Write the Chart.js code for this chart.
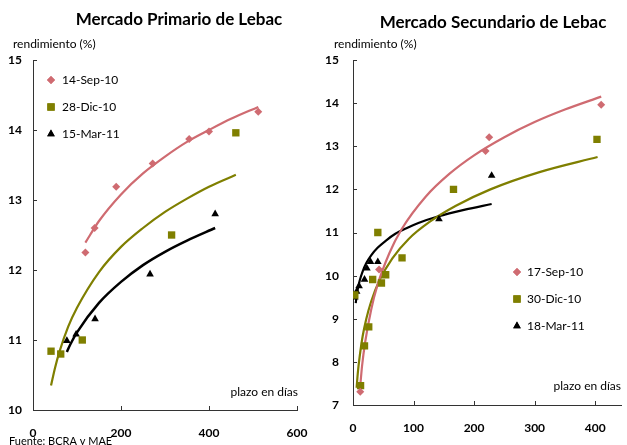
<!DOCTYPE html>
<html>
<head>
<meta charset="utf-8">
<script src="https://cdn.jsdelivr.net/npm/chart.js@4.4.1/dist/chart.umd.min.js"></script>
<style>
  html, body { margin: 0; padding: 0; background: #fff; overflow: hidden; }
  #wrap { position: relative; width: 627px; height: 445px; }
  canvas { position: absolute; top: 0; }
  #primario { left: 0; }
  #secundario { left: 313px; }
</style>
</head>
<body>
<div id="wrap">
  <canvas id="primario" width="313" height="445"></canvas>
  <canvas id="secundario" width="314" height="445"></canvas>
</div>
<script>
// ---------- Mercado primario: plazo (días) / rendimiento (%) ----------
const primLabels = ['14-Sep-10', '28-Dic-10', '15-Mar-11'];
const primSepDays = [119, 140, 189, 272, 355, 400, 512];
const primSepRate = [12.25, 12.60, 13.19, 13.52, 13.87, 13.98, 14.26];
const primDicDays = [41, 63, 112, 315, 461];
const primDicRate = [10.84, 10.80, 11.00, 12.50, 13.96];
const primMarDays = [77, 98, 141, 266, 414];
const primMarRate = [10.99, 11.08, 11.30, 11.94, 12.80];

// logarithmic trend curves
const primSepTrendDays = [119, 150, 200, 250, 300, 350, 400, 450, 512];
const primSepTrendRate = [12.39, 12.70, 13.08, 13.38, 13.62, 13.83, 14.00, 14.16, 14.33];
const primDicTrendDays = [41, 50, 60, 80, 100, 150, 200, 250, 300, 350, 400, 461];
const primDicTrendRate = [10.35, 10.60, 10.83, 11.19, 11.46, 11.97, 12.33, 12.60, 12.83, 13.02, 13.19, 13.36];
const primMarTrendDays = [77, 85, 100, 150, 200, 250, 300, 350, 414];
const primMarTrendRate = [10.83, 10.94, 11.11, 11.53, 11.83, 12.07, 12.26, 12.42, 12.60];

const primXTicks = [0, 200, 400, 600];
const primYTicks = [10, 11, 12, 13, 14, 15];

// ---------- Mercado secundario: plazo (días) / rendimiento (%) ----------
const secLabels = ['17-Sep-10', '30-Dic-10', '18-Mar-11'];
const secSepDays = [12, 43, 219, 225, 410];
const secSepRate = [7.31, 10.14, 12.89, 13.21, 13.96];
const secDicDays = [3, 12.5, 19, 26, 32.5, 41, 47, 54, 81, 166, 403];
const secDicRate = [9.55, 7.45, 8.37, 8.81, 9.91, 11.00, 9.83, 10.02, 10.41, 12.00, 13.16];
const secMarDays = [3, 6, 10, 19, 23, 29, 41, 142, 229];
const secMarRate = [9.50, 9.63, 9.76, 9.91, 10.17, 10.32, 10.32, 11.31, 12.32];

const secSepTrendDays = [12, 15, 20, 30, 40, 60, 80, 120, 160, 200, 250, 300, 350, 410];
const secSepTrendRate = [7.45, 7.91, 8.45, 9.21, 9.76, 10.52, 11.07, 11.83, 12.37, 12.79, 13.21, 13.56, 13.85, 14.15];
const secDicTrendDays = [6, 8, 11, 16, 22, 30, 43, 65, 92, 127, 170, 227, 308, 404];
const secDicTrendRate = [7.40, 7.75, 8.12, 8.60, 9.00, 9.40, 9.87, 10.40, 10.85, 11.25, 11.62, 12.00, 12.40, 12.75];
const secMarTrendDays = [4.5, 7, 11, 16, 22, 30, 41, 55, 70, 90, 108, 140, 185, 229];
const secMarTrendRate = [9.36, 9.62, 9.88, 10.10, 10.29, 10.47, 10.65, 10.82, 10.97, 11.11, 11.22, 11.37, 11.53, 11.66];

const secXTicks = [0, 100, 200, 300, 400];
const secYTicks = [7, 8, 9, 10, 11, 12, 13, 14, 15];

// ---------- styling ----------
const FONT = 'Lato, "Open Sans", "DejaVu Sans", sans-serif';
const PINK = '#cf6b71';
const OLIVE = '#7f7f00';
const BLACK = '#000000';
const AXIS = '#333333';

const markerStyles = [
  { pointStyle: 'rectRot', radius: 4, color: PINK },
  { pointStyle: 'rect', radius: 5.2, color: OLIVE },
  { pointStyle: 'triangle', radius: 4.4, color: BLACK }
];

function pairs(xs, ys) { return xs.map((x, i) => ({ x: x, y: ys[i] })); }

function markerSet(label, xs, ys, st) {
  return {
    label: label, data: pairs(xs, ys), showLine: false,
    pointStyle: st.pointStyle, pointRadius: st.radius,
    pointBackgroundColor: st.color, pointBorderColor: st.color, pointBorderWidth: 0,
    order: 0
  };
}
function trendSet(xs, ys, color, width) {
  return {
    label: '', data: pairs(xs, ys), showLine: true, pointRadius: 0,
    borderColor: color, borderWidth: width, cubicInterpolationMode: 'monotone',
    fill: false, order: 1
  };
}

// tick marks (inward), titles and in-plot legend
const decorations = {
  id: 'decorations',
  afterDraw(chart, args, o) {
    const ctx = chart.ctx, ca = chart.chartArea;
    const xs = chart.scales.x, ys = chart.scales.y;
    ctx.save();
    ctx.strokeStyle = AXIS; ctx.lineWidth = 1;
    xs.ticks.forEach(t => {
      const px = Math.round(xs.getPixelForValue(t.value)) + 0.5;
      ctx.beginPath(); ctx.moveTo(px, ca.bottom); ctx.lineTo(px, ca.bottom - 4); ctx.stroke();
    });
    ys.ticks.forEach(t => {
      const py = Math.round(ys.getPixelForValue(t.value)) + 0.5;
      ctx.beginPath(); ctx.moveTo(ca.left, py); ctx.lineTo(ca.left + 4, py); ctx.stroke();
    });

    ctx.fillStyle = '#000';
    ctx.textBaseline = 'alphabetic';
    ctx.textAlign = 'center';
    ctx.font = 'bold 17px ' + FONT;
    ctx.fillText(o.title, o.titleX, o.titleY);

    ctx.textBaseline = 'middle';
    ctx.textAlign = 'left';
    ctx.font = '12px ' + FONT;
    ctx.fillText('rendimiento (%)', o.yTitleX, o.yTitleY);
    ctx.textAlign = 'right';
    ctx.fillText('plazo en días', o.xTitleRight, o.xTitleY);

    // legend
    ctx.font = '12px ' + FONT;
    ctx.textAlign = 'left';
    o.legendLabels.forEach((lab, i) => {
      const st = markerStyles[i];
      const y = o.legendY[i];
      ctx.fillStyle = st.color;
      Chart.helpers.drawPoint(ctx, { pointStyle: st.pointStyle, radius: st.radius, borderWidth: 0, rotation: 0 }, o.legendMarkerX, y);
      ctx.fill();
      ctx.fillStyle = '#000';
      ctx.fillText(lab, o.legendTextX, y);
    });

    if (o.source) {
      ctx.font = '11px ' + FONT;
      ctx.textAlign = 'left';
      ctx.fillText(o.source, o.sourceX, o.sourceY);
    }
    ctx.restore();
  }
};

function makeScales(xMin, xMax, xTicks, yMin, yMax, yTicks, yWidth, xHeight, xPad, yPad) {
  return {
    x: {
      type: 'linear', position: 'bottom', min: xMin, max: xMax,
      afterBuildTicks: s => { s.ticks = xTicks.map(v => ({ value: v })); },
      ticks: { color: '#000', padding: xPad, maxRotation: 0, autoSkip: false,
               font: { family: FONT, size: 12, weight: 'bold' } },
      grid: { display: false, drawTicks: false },
      border: { display: true, color: AXIS, width: 1 },
      afterFit: s => { s.height = xHeight; s.paddingLeft = 0; s.paddingRight = 0; }
    },
    y: {
      type: 'linear', position: 'left', min: yMin, max: yMax,
      afterBuildTicks: s => { s.ticks = yTicks.map(v => ({ value: v })); },
      ticks: { color: '#000', padding: yPad, autoSkip: false,
               font: { family: FONT, size: 12, weight: 'bold' } },
      grid: { display: false, drawTicks: false },
      border: { display: true, color: AXIS, width: 1 },
      afterFit: s => { s.width = yWidth; s.paddingTop = 0; s.paddingBottom = 0; }
    }
  };
}

const common = {
  responsive: false, animation: false, devicePixelRatio: 1, events: [],
  plugins: { legend: { display: false }, tooltip: { enabled: false }, title: { display: false } }
};

new Chart(document.getElementById('primario'), {
  type: 'scatter',
  data: {
    datasets: [
      markerSet(primLabels[0], primSepDays, primSepRate, markerStyles[0]),
      markerSet(primLabels[1], primDicDays, primDicRate, markerStyles[1]),
      markerSet(primLabels[2], primMarDays, primMarRate, markerStyles[2]),
      trendSet(primSepTrendDays, primSepTrendRate, PINK, 2.2),
      trendSet(primDicTrendDays, primDicTrendRate, OLIVE, 2.2),
      trendSet(primMarTrendDays, primMarTrendRate, BLACK, 2.5)
    ]
  },
  options: Object.assign({}, common, {
    layout: { padding: { top: 60, left: 0, right: 16, bottom: 0 } },
    scales: makeScales(0, 600, primXTicks, 10, 15, primYTicks, 33, 35, 16, 11),
    plugins: Object.assign({}, common.plugins, {
      decorations: {
        title: 'Mercado Primario de Lebac', titleX: 179, titleY: 25,
        yTitleX: 13, yTitleY: 44, xTitleRight: 298, xTitleY: 392,
        legendLabels: primLabels, legendMarkerX: 51, legendTextX: 62, legendY: [80, 107, 134],
        source: 'Fuente: BCRA y MAE', sourceX: 9, sourceY: 441
      }
    })
  }),
  plugins: [decorations]
});

new Chart(document.getElementById('secundario'), {
  type: 'scatter',
  data: {
    datasets: [
      markerSet(secLabels[0], secSepDays, secSepRate, markerStyles[0]),
      markerSet(secLabels[1], secDicDays, secDicRate, markerStyles[1]),
      markerSet(secLabels[2], secMarDays, secMarRate, markerStyles[2]),
      trendSet(secSepTrendDays, secSepTrendRate, PINK, 2.2),
      trendSet(secDicTrendDays, secDicTrendRate, OLIVE, 2.2),
      trendSet(secMarTrendDays, secMarTrendRate, BLACK, 2.2)
    ]
  },
  options: Object.assign({}, common, {
    layout: { padding: { top: 60, left: 0, right: 0, bottom: 0 } },
    scales: makeScales(0, 444, secXTicks, 7, 15, secYTicks, 40, 40, 16, 14),
    plugins: Object.assign({}, common.plugins, {
      decorations: {
        title: 'Mercado Secundario de Lebac', titleX: 180, titleY: 28,
        yTitleX: 21, yTitleY: 44, xTitleRight: 308, xTitleY: 386,
        legendLabels: secLabels, legendMarkerX: 204, legendTextX: 214, legendY: [272, 299, 326],
        source: null
      }
    })
  }),
  plugins: [decorations]
});
</script>
</body>
</html>
